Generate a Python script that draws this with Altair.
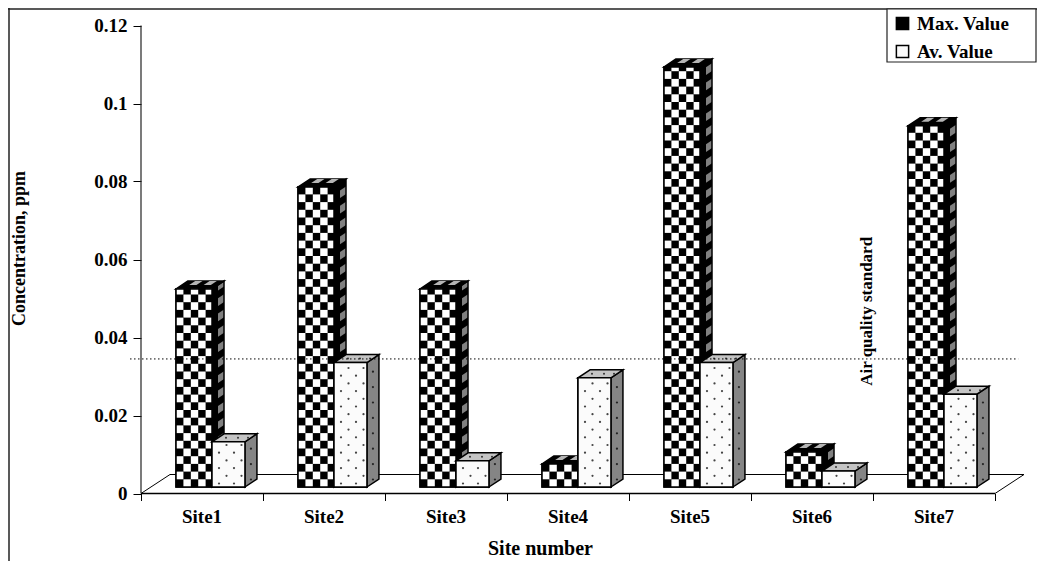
import altair as alt
import pandas as pd

# ---- chart values ----
sites = ["Site1", "Site2", "Site3", "Site4", "Site5", "Site6", "Site7"]
max_value = [0.0508, 0.0769, 0.0508, 0.0059, 0.1077, 0.0090, 0.0926]
av_value = [0.0116, 0.0319, 0.0067, 0.0280, 0.0319, 0.0041, 0.0238]
series_names = ["Max. Value", "Av. Value"]
y_ticks = [0, 0.02, 0.04, 0.06, 0.08, 0.1, 0.12]
x_ticks = [0, 1, 2, 3, 4, 5, 6, 7]
standard = 0.0345
standard_label = "Air quality standard"

# ---- geometry (px per data unit) ----
W, H = 1029, 553
PXU, PXV = 122.0, 3900.0
X0, Y0 = 133.0, 485.5
xs = alt.Scale(domain=[-X0 / PXU, (W - X0) / PXU], nice=False, zero=False)
ys = alt.Scale(domain=[(Y0 - H) / PXV, Y0 / PXV], nice=False, zero=False)

DU, DV = 12 / PXU, 8 / PXV        # bar depth
BASE = 6.5 / PXV                  # bar feet sit above the axis line
FLOOR_DU, FLOOR_DV = 29 / PXU, 19 / PXV
L, M, R = 0.287, 0.582, 0.852     # bar edges inside one site slot
CW, CH = 7.4 / PXU, 7.7 / PXV     # check cell

fronts, white, side_base, side_cells, top_base, top_cells = [], [], [], [], [], []
av_side, av_top, dots, side_dots, top_dots = [], [], [], [], []
uid = 0
for i, site in enumerate(sites):
    mv, av = max_value[i], av_value[i]
    x0, x1, x2 = i + L, i + M, i + R
    vtop = BASE + mv
    atop = BASE + av
    fronts.append(dict(series=series_names[0], a=x0, b=x1, base=BASE, top=vtop))
    fronts.append(dict(series=series_names[1], a=x1, b=x2, base=BASE, top=atop))

    # checker on the front of the max bar
    r = 0
    while BASE + r * CH < vtop:
        c = 0
        while x0 + c * CW < x1:
            if (r + c) % 2 == 1:
                white.append(dict(a=x0 + c * CW, b=min(x0 + (c + 1) * CW, x1),
                                  base=BASE + r * CH, top=min(BASE + (r + 1) * CH, vtop)))
            c += 1
        r += 1

    # side faces
    side_base.append(dict(id=uid, x=x1, lo=BASE, hi=vtop))
    side_base.append(dict(id=uid, x=x1 + DU, lo=BASE + DV, hi=vtop + DV))
    uid += 1
    av_side.append(dict(id=uid, x=x2, lo=BASE, hi=atop))
    av_side.append(dict(id=uid, x=x2 + DU, lo=BASE + DV, hi=atop + DV))
    uid += 1
    r = 0
    while BASE + r * CH < vtop:
        if r % 2 == 1:
            lo = BASE + r * CH
            hi = min(lo + CH, vtop)
            side_cells.append(dict(id=uid, x=x1 + DU / 2, lo=lo + DV / 2, hi=hi + DV / 2))
            side_cells.append(dict(id=uid, x=x1 + DU, lo=lo + DV, hi=hi + DV))
            uid += 1
        r += 1

    # top faces
    top_base.append(dict(id=uid, y=vtop, a=x0, b=x1))
    top_base.append(dict(id=uid, y=vtop + DV, a=x0 + DU, b=x1 + DU))
    uid += 1
    av_top.append(dict(id=uid, y=atop, a=x1, b=x2))
    av_top.append(dict(id=uid, y=atop + DV, a=x1 + DU, b=x2 + DU))
    uid += 1
    for k in (1, 3):
        w = (x1 - x0) / 5
        top_cells.append(dict(id=uid, y=vtop + DV / 2, a=x0 + DU / 2 + k * w, b=x0 + DU / 2 + (k + 1) * w))
        top_cells.append(dict(id=uid, y=vtop + DV, a=x0 + DU + k * w, b=x0 + DU + (k + 1) * w))
        uid += 1

    # dots on the average bar
    r = 0
    while True:
        v = BASE + 3.5 / PXV + r * CH
        if v > atop - 2 / PXV:
            break
        offs = [7.0, 22.0] if r % 2 == 0 else [14.5, 29.5]
        for o in offs:
            dots.append(dict(x=x1 + o / PXU, y=v))
        if r % 2 == 0:
            side_dots.append(dict(x=x2 + DU / 2, y=v + DV / 2))
        r += 1
    for o in (8.0, 20.0, 30.0):
        top_dots.append(dict(x=x1 + DU / 2 + o / PXU, y=atop + DV / 2))

font = "Liberation Serif"
FS = 19

front_layer = alt.Chart(pd.DataFrame(fronts)).mark_rect(stroke="black", strokeWidth=1.5).encode(
    x=alt.X("a:Q", scale=xs, axis=alt.Axis(
        values=x_ticks, labels=False, grid=False, domain=False, tickSize=7, tickColor="black",
        tickWidth=1, offset=-(H - Y0), title="Site number", titleFont=font, titleFontSize=FS + 1,
        titleFontWeight="bold", titleColor="black", titleX=532, titleY=55,
        titleAlign="center", titleBaseline="middle")),
    x2="b:Q",
    y=alt.Y("top:Q", scale=ys, axis=alt.Axis(
        values=y_ticks, format="~g", grid=False, domain=False, tickSize=8, tickColor="black",
        tickWidth=1, offset=-X0, labelFont=font, labelFontSize=FS, labelFontWeight="bold",
        labelColor="black", labelPadding=6, title="Concentration, ppm", titleFont=font,
        titleFontSize=18, titleFontWeight="bold", titleColor="black", titleAngle=270,
        titleX=-122, titleY=240, titleAlign="center", titleBaseline="middle")),
    y2="base:Q",
    color=alt.Color("series:N", sort=series_names,
                    scale=alt.Scale(domain=series_names, range=["#000000", "#fbfbfb"]),
                    legend=alt.Legend(title=None, orient="none", legendX=885, legendY=6,
                                      symbolType="square", symbolSize=150, symbolStrokeColor="black",
                                      symbolStrokeWidth=1.5, labelFont=font, labelFontSize=FS,
                                      labelFontWeight="bold", labelColor="black", labelOffset=5,
                                      rowPadding=8, padding=0)),
)


def xv(field="x"):
    return alt.X(f"{field}:Q", scale=xs, axis=None)


def yv(field="y"):
    return alt.Y(f"{field}:Q", scale=ys, axis=None)


def side(rows, fill, outline=False):
    kw = dict(stroke="black", strokeWidth=1.5, fillOpacity=0) if outline else {}
    return alt.Chart(pd.DataFrame(rows)).mark_area(orient="vertical", color=fill, **kw).encode(
        x=xv(), y=yv("lo"), y2="hi:Q", detail="id:N")


def top(rows, fill, outline=False):
    kw = dict(stroke="black", strokeWidth=1.5) if outline else {}
    return alt.Chart(pd.DataFrame(rows)).mark_area(orient="horizontal", fill=fill, **kw).encode(
        y=yv(), x=xv("a"), x2="b:Q", detail="id:N")


# floor outline and axis lines
floor_rows = [
    dict(o=0, x=0, y=0), dict(o=1, x=FLOOR_DU, y=FLOOR_DV),
    dict(o=2, x=7 + FLOOR_DU, y=FLOOR_DV), dict(o=3, x=7, y=0),
]
floor = alt.Chart(pd.DataFrame(floor_rows)).mark_line(color="black", strokeWidth=1).encode(
    x=xv(), y=yv(), order=alt.Order("o:Q"))

axis_x = alt.Chart(pd.DataFrame({"a": [0], "b": [7], "y": [0]})).mark_rule(color="black", strokeWidth=1.5).encode(
    x=xv("a"), x2="b:Q", y=yv())
axis_y = alt.Chart(pd.DataFrame({"x": [0], "a": [0], "b": [0.12]})).mark_rule(color="#222222", strokeWidth=1.2).encode(
    x=xv(), y=yv("a"), y2="b:Q")

white_layer = alt.Chart(pd.DataFrame(white)).mark_rect(color="white").encode(
    x=xv("a"), x2="b:Q", y=yv("base"), y2="top:Q")
front_outline = alt.Chart(pd.DataFrame(fronts)).mark_rect(fillOpacity=0, stroke="black", strokeWidth=1.5).encode(
    x=xv("a"), x2="b:Q", y=yv("base"), y2="top:Q")


def pts(rows, color, size):
    return alt.Chart(pd.DataFrame(rows)).mark_point(filled=True, color=color, size=size, opacity=1).encode(
        x=xv(), y=yv())


labels = alt.Chart(pd.DataFrame({"x": [i + 0.5 for i in range(7)], "y": [-23.5 / PXV] * 7, "t": sites})).mark_text(
    font=font, fontSize=FS, fontWeight="bold", color="black", baseline="middle").encode(
    x=xv(), y=yv(), text="t:N")

std_line = alt.Chart(pd.DataFrame({"a": [-0.09], "b": [7.19], "y": [standard]})).mark_rule(
    color="black", strokeWidth=1, strokeDash=[1.5, 2.5]).encode(x=xv("a"), x2="b:Q", y=yv())
std_text = alt.Chart(pd.DataFrame({"x": [5.95], "y": [0.0467], "t": [standard_label]})).mark_text(
    font=font, fontSize=17, fontWeight="bold", color="black", angle=270, baseline="middle").encode(
    x=xv(), y=yv(), text="t:N")

frame_top = alt.Chart(pd.DataFrame({"k": [0]})).mark_rule(color="#222222", strokeWidth=1.5).encode(
    x=alt.value(0), x2=alt.value(W), y=alt.value(1))
frame_left = alt.Chart(pd.DataFrame({"k": [0]})).mark_rule(color="#222222", strokeWidth=1.5).encode(
    x=alt.value(1), y=alt.value(0), y2=alt.value(H))
legend_box = alt.Chart(pd.DataFrame({"k": [0]})).mark_rect(fill="white", stroke="#222222", strokeWidth=1.2).encode(
    x=alt.value(879), x2=alt.value(W - 1), y=alt.value(1), y2=alt.value(54))

chart = alt.layer(
    axis_x, axis_y, frame_top, frame_left,
    floor,
    side(side_base, "black"), side(side_cells, "#808080"), side(side_base, "black", outline=True),
    top(top_base, "black", outline=True), top(top_cells, "#b5b5b5"),
    front_layer,
    white_layer, front_outline,
    side(av_side, "#858585"), side(av_side, "black", outline=True), pts(side_dots, "#222222", 5),
    top(av_top, "#c4c4c4", outline=True), pts(top_dots, "#333333", 4),
    alt.Chart(pd.DataFrame([f for f in fronts if f["series"] == series_names[1]])).mark_rect(
        fill="#fbfbfb", stroke="black", strokeWidth=1.5).encode(x=xv("a"), x2="b:Q", y=yv("base"), y2="top:Q"),
    pts(dots, "#444444", 5),
    std_line, std_text, labels, legend_box,
).resolve_axis(x="independent", y="independent").properties(
    width=W, height=H, padding=0, autosize=alt.AutoSizeParams(type="none"), background="white"
).configure_view(stroke=None)

chart.save("out.html", embed_options={"renderer": "svg", "actions": False})
